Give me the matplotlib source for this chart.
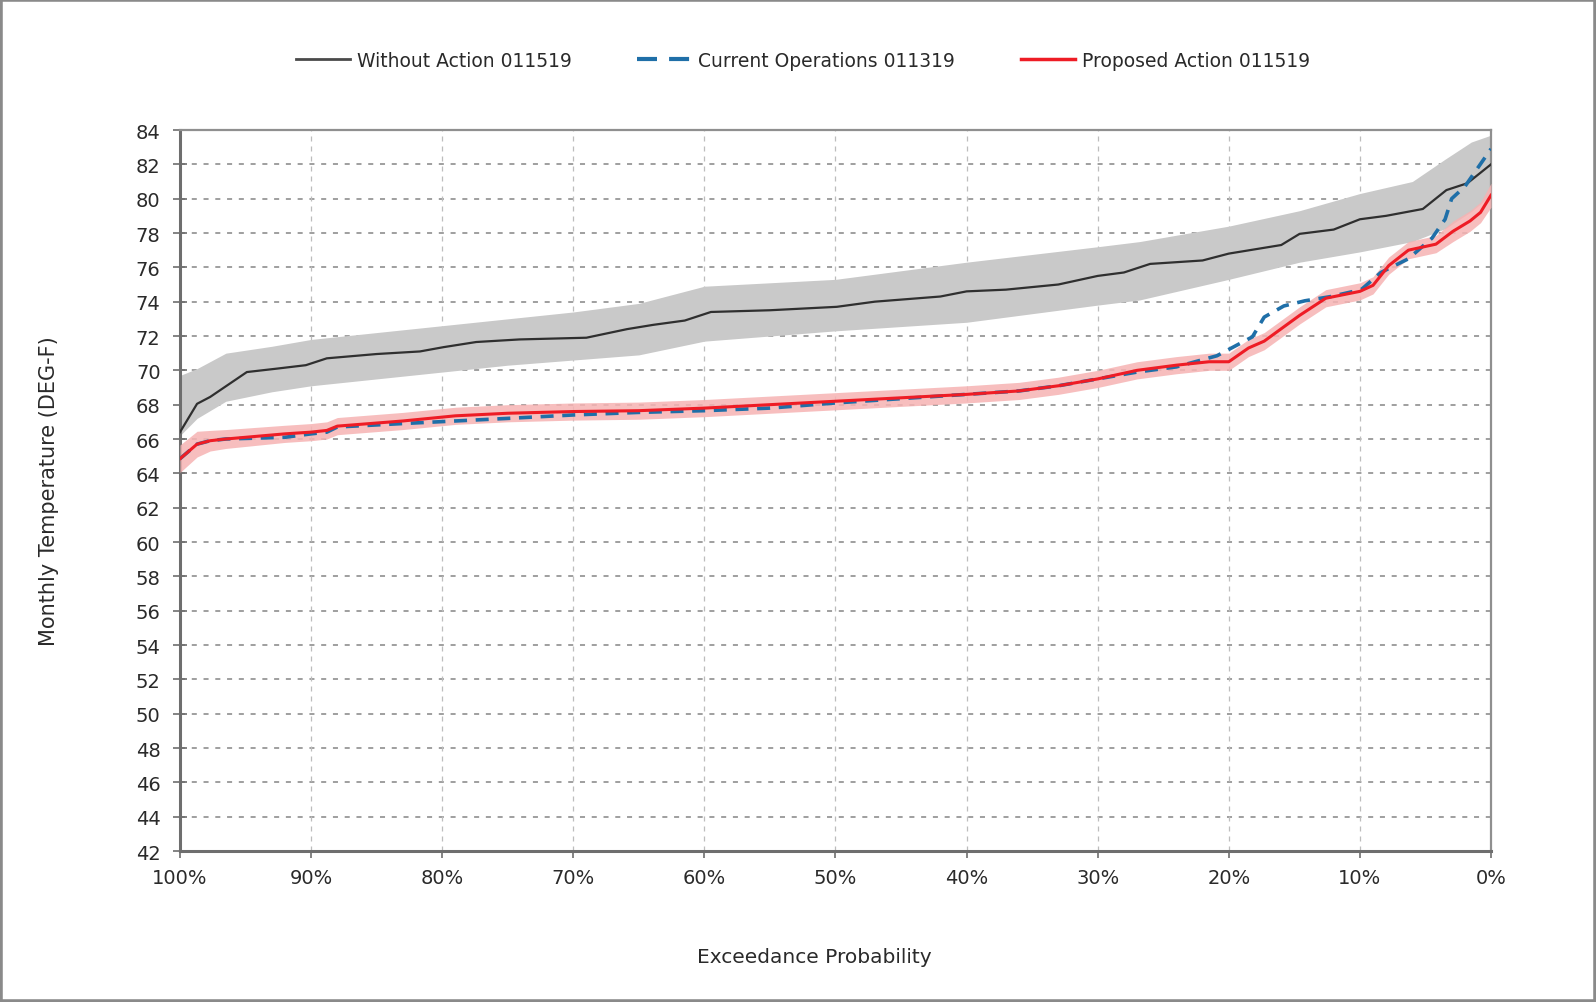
import matplotlib
matplotlib.use("Agg")
import matplotlib.pyplot as plt
from matplotlib.lines import Line2D
from matplotlib.patches import Rectangle
import numpy as np

plt.rcParams['font.family'] = ['DejaVu Sans']

# ---------------- data (exceedance %, deg F) ----------------
wa_x = [100, 98.7, 97.7, 94.9, 92.6, 90.4, 88.8, 85, 81.7, 79.9, 77.4, 74.1, 69, 65.9, 63.9,
        61.5, 59.5, 55, 49.9, 47, 42, 40, 37, 33, 30, 28, 26, 22, 20, 16, 14.6, 12, 10, 8, 5.2,
        3.4, 1.8, 0]
wa_y = [66.4, 68.05, 68.45, 69.9, 70.1, 70.3, 70.7, 70.95, 71.1, 71.35, 71.65, 71.8, 71.9, 72.4, 72.65,
        72.9, 73.4, 73.5, 73.7, 74.0, 74.3, 74.6, 74.7, 75.0, 75.5, 75.7, 76.2, 76.4, 76.8, 77.3, 77.95,
        78.2, 78.8, 79.0, 79.4, 80.5, 80.9, 82.0]

band_x = [100, 98.7, 96.5, 93, 90, 85, 80, 75, 70, 65, 60, 50, 40, 30, 26.8, 20, 14.6, 10, 6,
          3.5, 1.5, 0]
band_hi = [69.7, 70.1, 71.0, 71.4, 71.8, 72.2, 72.6, 73.0, 73.4, 73.9, 74.9, 75.3, 76.3, 77.2, 77.5,
           78.4, 79.3, 80.3, 81.0, 82.3, 83.3, 83.7]
band_lo = [66.2, 67.2, 68.2, 68.75, 69.1, 69.5, 69.9, 70.3, 70.6, 70.9, 71.7, 72.3, 72.8, 73.8, 74.1,
           75.3, 76.3, 76.9, 77.5, 78.25, 79.25, 80.2]

pa_x = [100, 98.7, 97.7, 96.5, 92, 90, 88.8, 88, 83, 79, 75, 70, 65, 60, 55, 50, 45, 40, 36, 33,
        30, 27, 24, 21.5, 20, 18.5, 17.3, 14.6, 12.6, 10, 9, 7.8, 6.3, 4.2, 2.9, 1.6, 0.8, 0]
pa_y = [64.85, 65.7, 65.9, 66.0, 66.3, 66.4, 66.5, 66.75, 67.05, 67.35, 67.5, 67.6, 67.65, 67.8, 68.0,
        68.2, 68.4, 68.6, 68.8, 69.1, 69.5, 70.0, 70.3, 70.5, 70.5, 71.3, 71.7, 73.2, 74.2, 74.6,
        74.95, 76.1, 77.0, 77.35, 78.1, 78.7, 79.2, 80.2]
pa_band = [0.8, 0.75, 0.6, 0.55, 0.5, 0.5, 0.5, 0.5, 0.5, 0.5, 0.5, 0.5, 0.5, 0.5, 0.5,
           0.5, 0.5, 0.5, 0.5, 0.5, 0.5, 0.5, 0.5, 0.5, 0.5, 0.5, 0.5, 0.5, 0.5, 0.5,
           0.5, 0.5, 0.5, 0.5, 0.6, 0.6, 0.6, 0.7]

co_x = [100, 98.7, 97.7, 96.5, 92, 90, 88.8, 88, 83, 79, 75, 70, 65, 60, 55, 50, 45, 40, 36, 33,
        30, 27, 24, 20.9, 18.2, 17.3, 15.8, 14.2, 12.2, 9.9, 8.4, 6.3, 4.5, 3.5, 3.0, 2.0, 0]
co_y = [64.85, 65.7, 65.9, 66.0, 66.1, 66.3, 66.4, 66.7, 66.9, 67.05, 67.2, 67.4, 67.55, 67.65, 67.8,
        68.1, 68.35, 68.6, 68.8, 69.1, 69.5, 69.9, 70.2, 70.85, 71.95, 73.1, 73.75, 74.05, 74.3, 74.7,
        75.7, 76.5, 77.7, 78.8, 80.0, 80.7, 82.9]

y_ticks = list(range(42, 86, 2))
x_ticks = [100, 90, 80, 70, 60, 50, 40, 30, 20, 10, 0]
x_ticklabels = [f"{v}%" for v in x_ticks]

labels = ["Without Action 011519", "Current Operations 011319", "Proposed Action 011519"]

# ---------------- figure ----------------
fig = plt.figure(figsize=(15.96, 10.03), dpi=100)
ax = fig.add_axes([180 / 1596, 1 - 852 / 1003, (1491 - 180) / 1596, (852 - 131) / 1003])

# frame around figure
fig.patches.append(Rectangle((0, 0), 1, 1, transform=fig.transFigure, fill=False,
                             edgecolor='#8a8a8a', linewidth=4, zorder=10))

ax.fill_between(band_x, band_lo, band_hi, color='#c9c9c9', lw=0, zorder=2)
ax.plot(wa_x, wa_y, color='#2f2f2f', lw=1.6, zorder=3)

pa_lo = np.array(pa_y) - np.array(pa_band)
pa_hi = np.array(pa_y) + np.array(pa_band)
ax.fill_between(pa_x, pa_lo, pa_hi, color='#f6b3b3', alpha=0.85, lw=0, zorder=3)
ax.plot(co_x, co_y, color='#1f6fa8', lw=2.6, dashes=(3.6, 2.4), zorder=4)
ax.plot(pa_x, pa_y, color='#ee1c25', lw=2.2, zorder=5)

ax.set_xlim(100, 0)
ax.set_ylim(42, 84)
ax.set_yticks(y_ticks)
ax.set_xticks(x_ticks)
ax.set_xticklabels(x_ticklabels)

# grid
for yv in y_ticks[1:-1]:
    ax.axhline(yv, color='#858585', lw=1.1, dashes=(3.3, 4.4), zorder=1)
for xv in x_ticks[1:-1]:
    ax.axvline(xv, color='#bdbdbd', lw=0.9, dashes=(4, 4), zorder=1)

for side in ['left', 'bottom']:
    ax.spines[side].set_color('#6e6e6e')
    ax.spines[side].set_linewidth(2.2)
for side in ['top', 'right']:
    ax.spines[side].set_color('#8f8f8f')
    ax.spines[side].set_linewidth(1.6)

ax.tick_params(axis='y', direction='inout', length=10, width=1.2, color='#6e6e6e',
               labelsize=14, labelcolor='#2a2a2a', pad=9)
ax.tick_params(axis='x', direction='out', length=5, width=1.2, color='#6e6e6e',
               labelsize=14, labelcolor='#2a2a2a', pad=7)

ax.set_xlabel("Exceedance Probability", fontsize=14.5, color='#2a2a2a')
ax.xaxis.set_label_coords(0.4837, -0.133)
ax.set_ylabel("Monthly Temperature (DEG-F)", fontsize=15, color='#2a2a2a')
ax.yaxis.set_label_coords(-0.092, 0.5)

handles = [Line2D([], [], color='#4a4a4a', lw=2),
           Line2D([], [], color='#1f6fa8', lw=3, dashes=(4.8, 2.9)),
           Line2D([], [], color='#ee1c25', lw=2.5)]
fig.legend(handles, labels, loc='center', bbox_to_anchor=(0.503, 0.939), ncol=3, frameon=False,
           fontsize=13.5, handlelength=2.9, handletextpad=0.35, columnspacing=3.5,
           labelcolor='#2a2a2a')

fig.savefig("out.png", dpi=100, facecolor='white')
